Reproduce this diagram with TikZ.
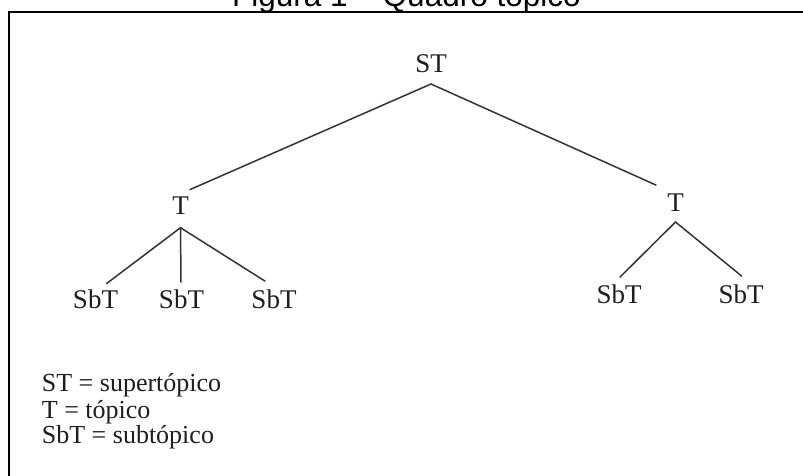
\documentclass[tikz,border=0pt]{standalone}
\usepackage{fontspec}
\setmainfont{Liberation Serif}
\newfontfamily\titlefont{Liberation Sans}
\definecolor{ink}{HTML}{1E1E1E}
\definecolor{edge}{HTML}{333333}
\tikzset{
  lbl/.style={font=\fontsize{27}{30}\selectfont, text=ink, inner sep=0pt, text height=18pt, text depth=0pt, anchor=south},
  leg/.style={font=\fontsize{26}{30}\selectfont, text=ink, inner sep=0pt, anchor=base west},
  edgeline/.style={draw=edge, line width=1.5pt, line cap=round},
  frameline/.style={draw=black, line width=2pt}
}
\begin{document}
\begin{tikzpicture}[x=1pt,y=-1pt]
\useasboundingbox (0,0) rectangle (803,475);
\fill[white] (0,0) rectangle (803,475);
% title (cut off at top)
\node[font=\titlefont\fontsize{31.5}{36}\selectfont, inner sep=0pt, anchor=base west] (title) at (232,6) {Figura 1 – Quadro tópico};
% frame
\draw[frameline] (804,11.5) -- (9,11.5) -- (9,477);
% tree nodes
\node[lbl] (st) at (431,72.7) {ST};
\node[lbl] (tl) at (180.5,215) {T};
\node[lbl] (tr) at (675.5,211.5) {T};
\node[lbl] (s1) at (95.5,308.5) {SbT};
\node[lbl] (s2) at (181.5,308.5) {SbT};
\node[lbl] (s3) at (274,308.5) {SbT};
\node[lbl] (s4) at (619,303.5) {SbT};
\node[lbl] (s5) at (741,303.5) {SbT};
% connectors
\draw[edgeline] ([yshift=-11.3pt]st.south) -- ([shift={(1pt,7pt)}]tl.north east);
\draw[edgeline] ([yshift=-11.3pt]st.south) -- ([shift={(-11pt,8pt)}]tr.north west);
\draw[edgeline] ([yshift=-12.7pt]tl.south) -- ([shift={(11pt,6.5pt)}]s1.north);
\draw[edgeline] ([yshift=-12.7pt]tl.south) -- ([shift={(-0.5pt,8pt)}]s2.north);
\draw[edgeline] ([yshift=-12.7pt]tl.south) -- ([shift={(-9pt,9pt)}]s3.north);
\draw[edgeline] ([yshift=-10.5pt]tr.south) -- ([shift={(1pt,8pt)}]s4.north);
\draw[edgeline] ([yshift=-10.5pt]tr.south) -- ([shift={(0.7pt,9pt)}]s5.north);
% legend
\node[leg] (l1) at (41.7,391.7) {ST = supertópico};
\node[leg] (l2) at (41.7,418.5) {T = tópico};
\node[leg] (l3) at (41.7,443.3) {SbT = subtópico};
\end{tikzpicture}
\end{document}
